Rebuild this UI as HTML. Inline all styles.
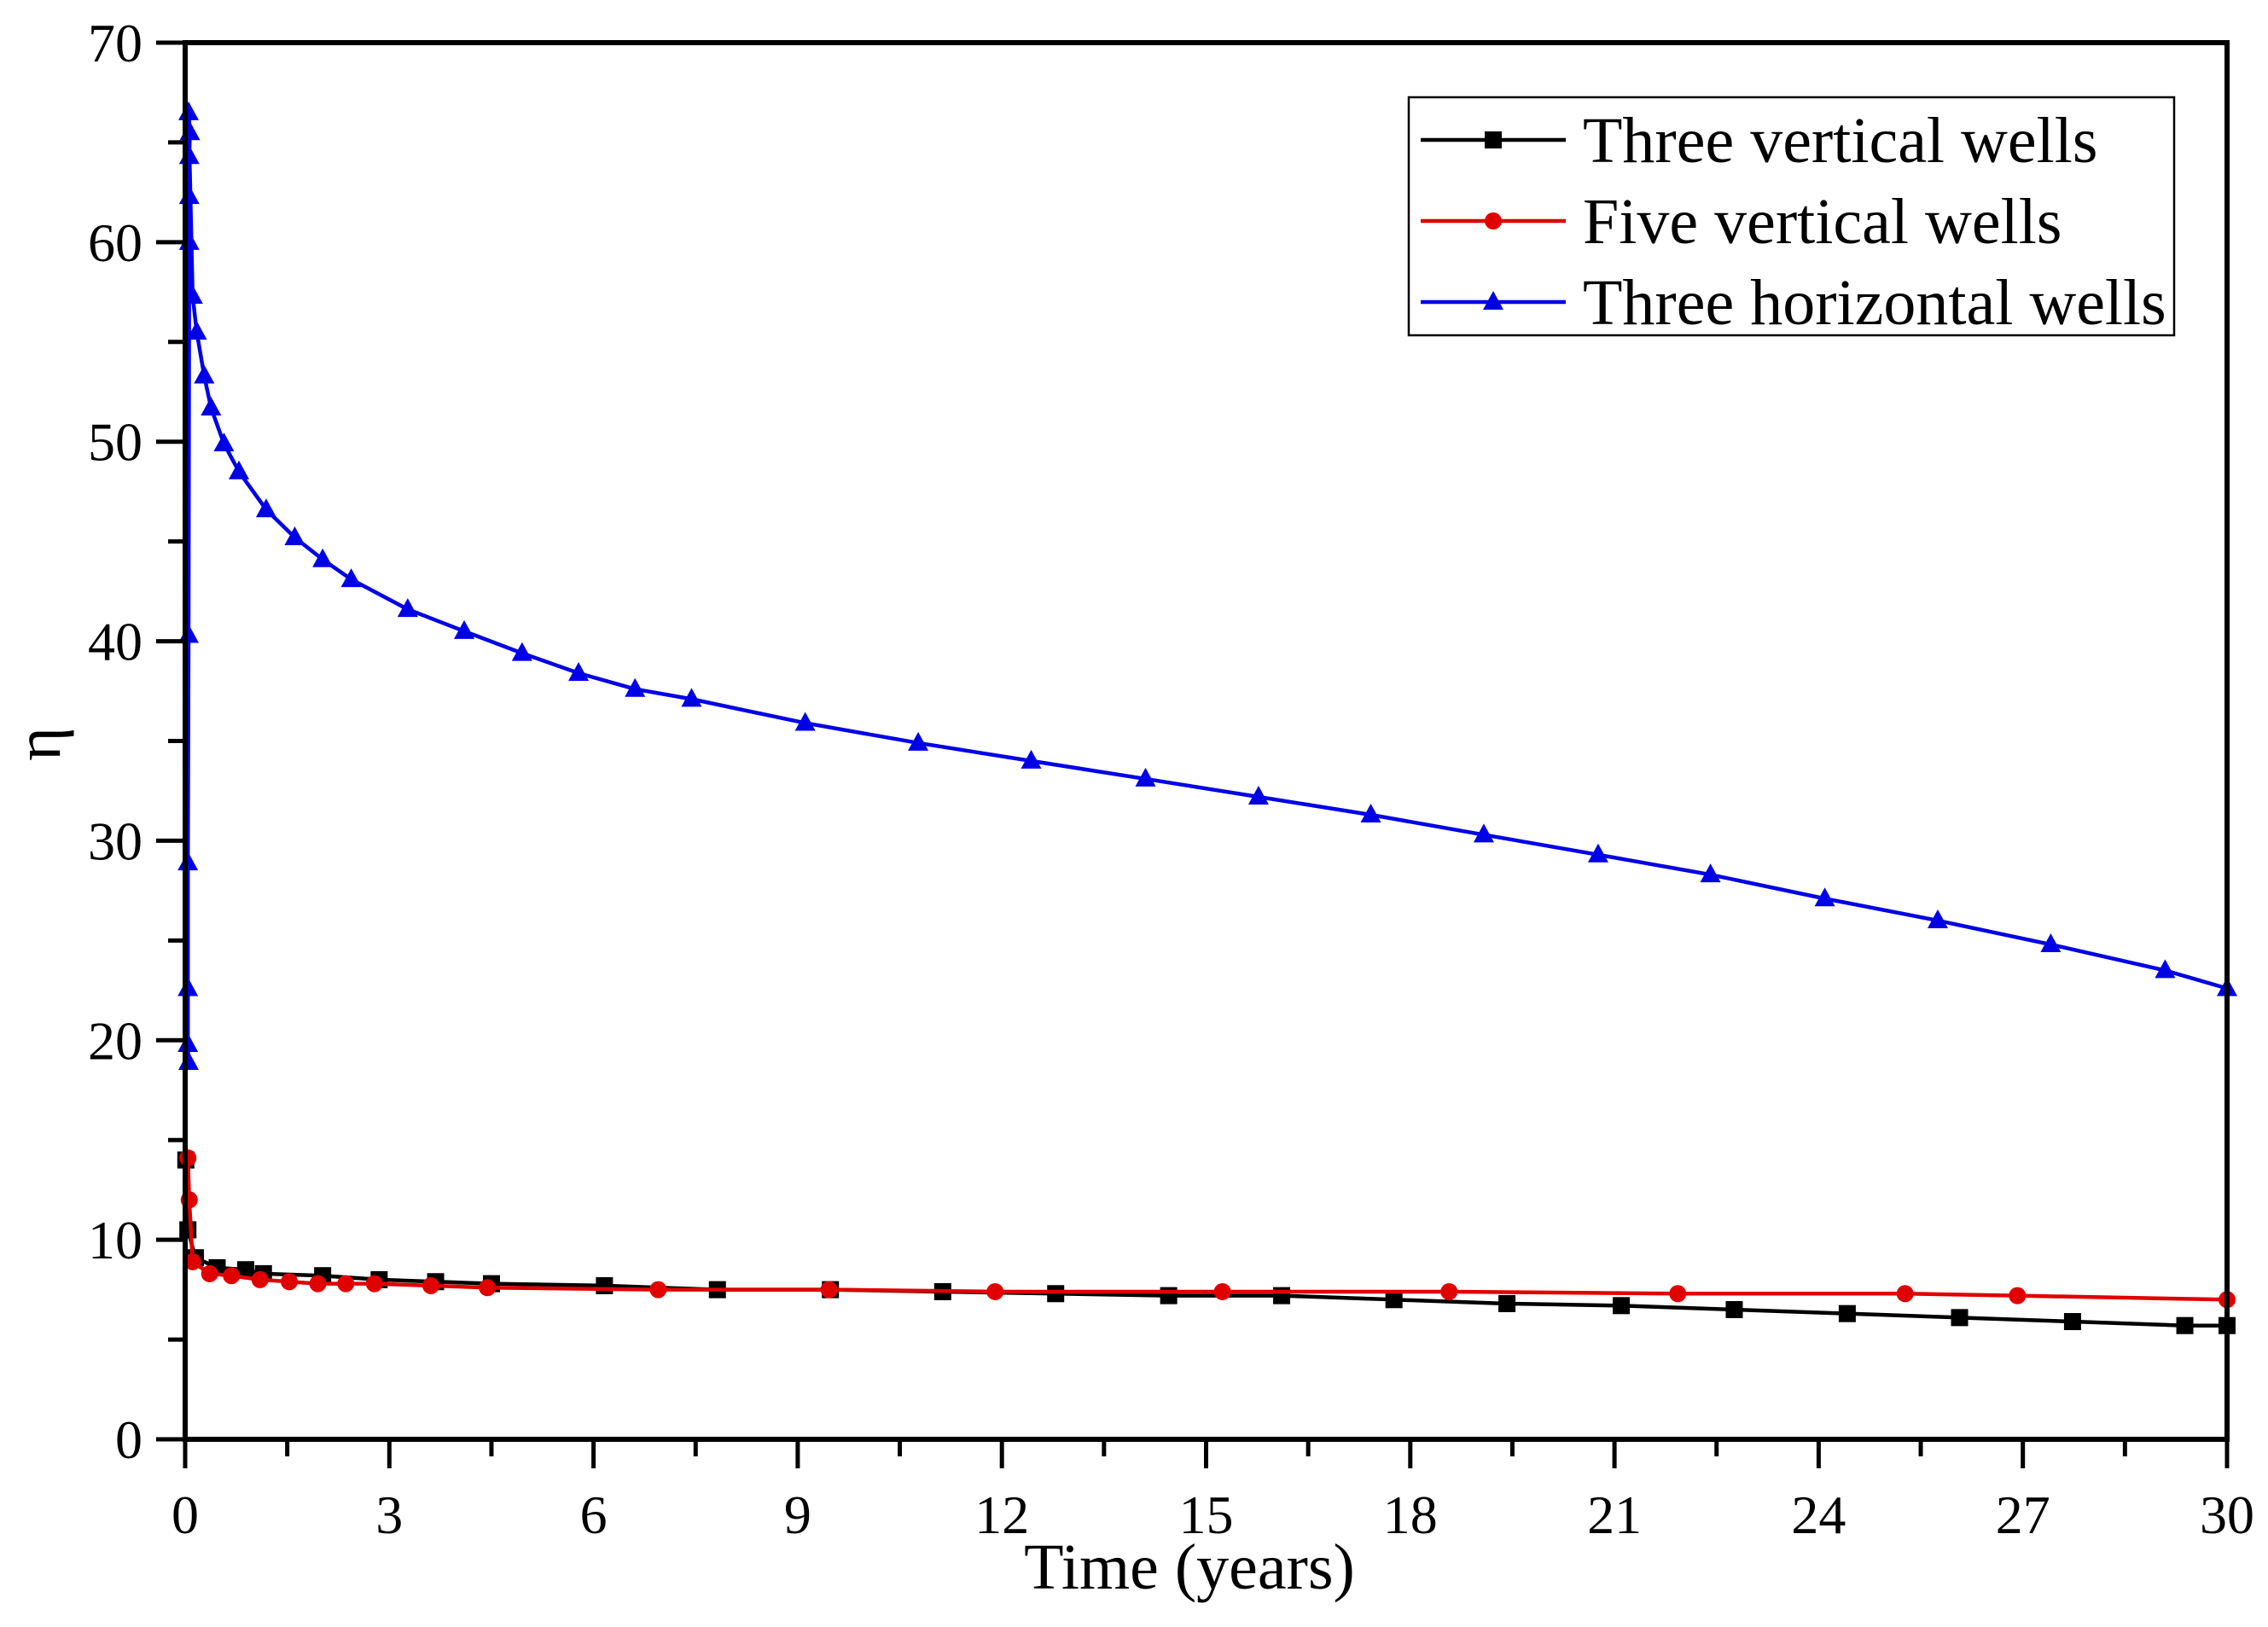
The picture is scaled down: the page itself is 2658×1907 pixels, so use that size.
<!DOCTYPE html>
<html><head><meta charset="utf-8"><style>
html,body{margin:0;padding:0;background:#fff;}
svg{display:block;font-family:"Liberation Serif",serif;}
</style></head><body>
<svg id="chart" width="2658" height="1907" viewBox="0 0 2658 1907">
<g id="plot"></g>
</svg>
<script>
const blueT=[0.05,0.04,0.04,0.04,0.05,0.06,0.06,0.06,0.07,0.05,0.11,0.17,0.28,0.38,0.57,0.79,1.19,1.61,2.02,2.44,3.27,4.10,4.95,5.78,6.61,7.44,9.11,10.77,12.43,14.11,15.77,17.42,19.08,20.76,22.41,24.09,25.75,27.41,29.09,30];
const blueV=[18.9,19.8,22.6,28.9,40.3,60,62.3,64.3,65.5,66.5,57.3,55.5,53.3,51.7,49.9,48.5,46.6,45.2,44.1,43.1,41.6,40.5,39.4,38.4,37.6,37.1,35.9,34.9,34.0,33.1,32.2,31.3,30.3,29.3,28.3,27.1,26.0,24.8,23.5,22.6];
const blackT=[0.01,0.04,0.15,0.47,0.89,1.15,2.02,2.85,3.68,4.50,6.16,7.82,9.48,11.13,12.79,14.45,16.11,17.76,19.42,21.10,22.76,24.42,26.07,27.73,29.38,30];
const blackV=[14,10.5,9.1,8.6,8.5,8.3,8.2,8.0,7.9,7.8,7.7,7.5,7.5,7.4,7.3,7.2,7.2,7.0,6.8,6.7,6.5,6.3,6.1,5.9,5.7,5.7];
const redT=[0.04,0.06,0.11,0.36,0.68,1.10,1.53,1.95,2.36,2.78,3.61,4.44,6.95,9.46,11.90,15.24,18.57,21.93,25.27,26.92,30];
const redV=[14.1,12,8.9,8.3,8.2,8.0,7.9,7.8,7.8,7.8,7.7,7.6,7.5,7.5,7.4,7.4,7.4,7.3,7.3,7.2,7.0];
const xTicks=[0,3,6,9,12,15,18,21,24,27,30];
const yTicks=[0,10,20,30,40,50,60,70];

const X0=217,X1=2610,Y0=1687,Y1=50;
const sx=t=>X0+(t/30)*(X1-X0);
const sy=v=>Y0-(v/70)*(Y0-Y1);
const NS="http://www.w3.org/2000/svg";
const g=document.getElementById('plot');
function mk(tag,attrs,parent){const e=document.createElementNS(NS,tag);for(const k in attrs)e.setAttribute(k,attrs[k]);(parent||g).appendChild(e);return e;}
function marker(shape,x,y,color,parent){
  if(shape==='sq')return mk('rect',{x:x-10,y:y-10,width:20,height:20,fill:color},parent);
  if(shape==='ci')return mk('circle',{cx:x,cy:y,r:10,fill:color},parent);
  return mk('polygon',{points:`${x},${y-13} ${x-12},${y+9} ${x+12},${y+9}`,fill:color},parent);
}
function series(T,V,color,shape,name){
  const grp=mk('g',{});
  
  
  const pts=T.map((t,i)=>sx(t)+','+sy(V[i])).join(' ');
  const pl=mk('polyline',{points:pts,fill:'none',stroke:color,'stroke-width':4.5},grp);
  
  
  T.forEach((t,i)=>{
    const m=marker(shape,sx(t),sy(V[i]),color,grp);
    
    
  });
}
series(blackT,blackV,'#000','sq','three-vertical-wells');
series(redT,redV,'#e00000','ci','five-vertical-wells');
series(blueT,blueV,'#0000e6','tri','three-horizontal-wells');

const frame=mk('rect',{x:X0,y:Y1,width:X1-X0,height:Y0-Y1,fill:'none',stroke:'#000','stroke-width':6});



for(let t=0;t<=30;t+=1.5){
  const major=Math.abs(t/3-Math.round(t/3))<1e-6;
  const l=mk('line',{x1:sx(t),x2:sx(t),y1:Y0,y2:Y0+(major?34:20),stroke:'#000','stroke-width':5});
  
  
}
xTicks.forEach(t=>{
  const tx=mk('text',{x:sx(t),y:Y0+110,'font-size':64,'text-anchor':'middle',fill:'#000'});
  tx.textContent=t;
  
  
});
for(let v=0;v<=70;v+=5){
  const major=v%10===0;
  const l=mk('line',{x1:X0,x2:X0-(major?34:20),y1:sy(v),y2:sy(v),stroke:'#000','stroke-width':5});
  
  
}
yTicks.forEach(v=>{
  const tx=mk('text',{x:X0-50,y:sy(v)+22,'font-size':64,'text-anchor':'end',fill:'#000'});
  tx.textContent=v;
  
  
});
const xt=mk('text',{x:1394,y:1862,'font-size':76,'text-anchor':'middle',fill:'#000'});
xt.textContent='Time (years)';


const yt=mk('text',{x:70,y:872,'font-size':76,'text-anchor':'middle',fill:'#000',transform:'rotate(-90 70 872)'});
yt.textContent='η';



const lg=mk('g',{});


mk('rect',{x:1651,y:114,width:897,height:279,fill:'#fff',stroke:'#000','stroke-width':2.5},lg);
const entries=[['Three vertical wells','#000','sq'],['Five vertical wells','#e00000','ci'],['Three horizontal wells','#0000e6','tri']];
entries.forEach((e,i)=>{
  const y=164+i*95;
  const eg=mk('g',{},lg);
  
  
  mk('line',{x1:1665,x2:1835,y1:y,y2:y,stroke:e[1],'stroke-width':4.5},eg);
  marker(e[2],1750,y,e[1],eg);
  const t=mk('text',{x:1855,y:y+26,'font-size':76,fill:'#000'},eg);
  t.textContent=e[0];
});
</script>
</body></html>
